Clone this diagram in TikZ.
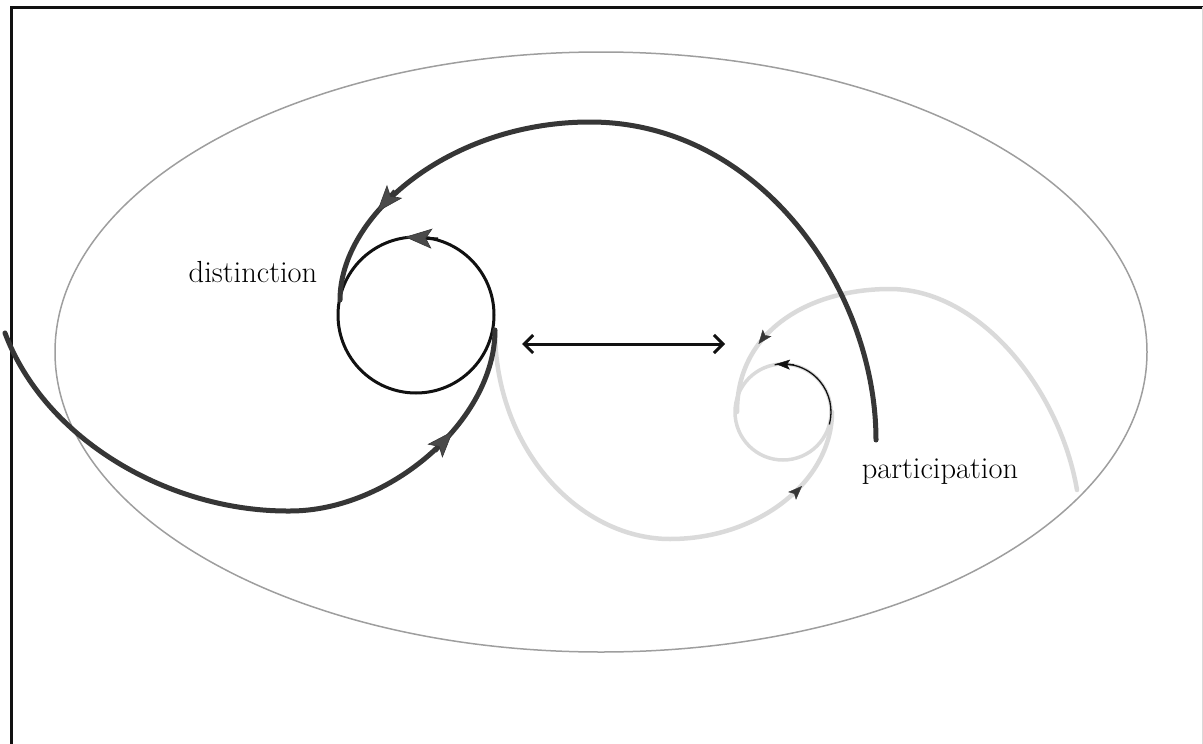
\documentclass[tikz,border=0pt]{standalone}
\usetikzlibrary{arrows.meta}
\definecolor{inkdark}{HTML}{363636}
\definecolor{inkblack}{HTML}{111111}
\definecolor{inklight}{HTML}{DADADA}
\definecolor{rim}{HTML}{9E9E9E}
\begin{document}
\begin{tikzpicture}[x=1pt,y=-1pt,
  darkpath/.style={draw=inkdark, line width=5pt, line cap=round},
  lightpath/.style={draw=inklight, line width=4.5pt, line cap=round},
  bighead/.style={-{Stealth[length=27pt,width=20pt,line width=0.6pt,inset=6pt,fill=inkdark!90,color=inkdark]}},
  lighthead/.style={-{Stealth[length=14pt,width=11pt,line width=0.4pt,inset=3pt,fill=inkdark,color=inkdark]}},
  smallhead/.style={-{Stealth[length=14pt,width=10pt,line width=0.4pt,inset=3pt]}},
  label/.style={font=\fontsize{30.5}{33}\selectfont, inner sep=0pt, anchor=base}]
\useasboundingbox (0,0) rectangle (1203,744);

% page frame
\draw[inkblack, line width=3pt] (11,760) -- (11,7) -- (1210,7);
\draw[black!15, line width=1pt] (1202,7) -- (1202,744);

% surrounding ellipse
\draw[rim, line width=1.5pt] (601,352) ellipse[x radius=546pt, y radius=300pt];

% ---- light spiral (participation) ----
\coordinate (pc) at (783,412);
\draw[inklight, line width=3.5pt] (pc) circle[radius=48pt];
\draw[lightpath] (495,330) .. controls (495,450) and (580,539) .. (670,539)
                           .. controls (760,539) and (832,480) .. (832,412);
\draw[lightpath] (737,412) .. controls (737,330) and (810,289) .. (890,289)
                           .. controls (980,289) and (1060,390) .. (1077,490);
\draw[inkblack, line width=1.3pt] ([shift={(100:48pt)}]pc) arc[start angle=100, end angle=-15, radius=48pt];
% light spiral arrowheads
\draw[inklight, line width=4pt, lighthead] (767,333) -- (758.5,344);
\draw[inklight, line width=4pt, lighthead] (792,496) -- (802,486);
\draw[inkblack, line width=1.3pt, smallhead] (794,364.8) -- (776,364);

% ---- dark spiral (distinction) ----
\coordinate (dc) at (416,315);
\draw[inkblack, line width=3pt] (dc) circle[radius=78pt];
\draw[darkpath] (5,333) .. controls (45,440) and (170,512) .. (290,511)
                        .. controls (390,511) and (495,420) .. (495,330);
\draw[darkpath] (340,300) .. controls (340,215) and (450,122) .. (590,122)
                          .. controls (760,122) and (876,290) .. (876,440);
% dark spiral arrowheads
\draw[inkdark, line width=4.5pt, bighead] (395,191) -- (377,212);
\draw[inkdark, line width=4.5pt, bighead] (435,451) -- (453,431);
\draw[inkblack, line width=3pt, bighead] (438,239) -- (405,237);

% relation between the two
\coordinate (la) at (522,344);
\coordinate (ra) at (725,344);
\draw[inkblack, line width=3pt, {Straight Barb[length=9pt,width=18pt]}-{Straight Barb[length=9pt,width=18pt]}] (la) -- (ra);

% labels
\node[label] (dist) at (253,282) {distinction};
\node[label] (part) at (940,478) {participation};
\end{tikzpicture}
\end{document}
